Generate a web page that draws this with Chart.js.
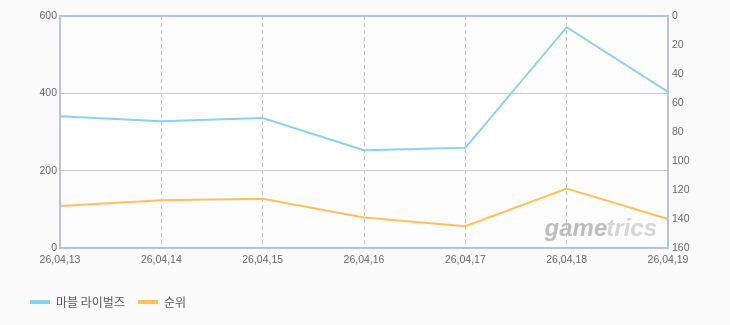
<!DOCTYPE html>
<html>
<head>
<meta charset="utf-8">
<script src="https://cdn.jsdelivr.net/npm/chart.js@4/dist/chart.umd.min.js"></script>
<style>
  html, body { margin: 0; padding: 0; background: #fbfbfb; }
  #wrap { width: 730px; height: 325px; }
</style>
</head>
<body>
<div id="wrap"><canvas id="chart" width="730" height="325"></canvas></div>
<script>
// dates and values
var labels = ['26,04,13', '26,04,14', '26,04,15', '26,04,16', '26,04,17', '26,04,18', '26,04,19'];
var gameValues = [341, 328, 336, 253, 259, 571, 404];
var rankValues = [131, 127, 126, 139, 145, 119, 140];
var leftTicks = [0, 200, 400, 600];
var rightTicks = [0, 20, 40, 60, 80, 100, 120, 140, 160];

var tickFont = { family: '"Liberation Sans", Arial, sans-serif', size: 10.5 };

// background bands, frame and watermark
var decor = {
  id: 'decor',
  beforeDraw: function (chart) {
    var c = chart.ctx, a = chart.chartArea, y = chart.scales.y;
    c.save();
    c.fillStyle = '#fbfbfb';
    c.fillRect(0, 0, chart.width, chart.height);
    for (var i = 0; i < leftTicks.length - 1; i++) {
      var top = y.getPixelForValue(leftTicks[i + 1]);
      var bot = y.getPixelForValue(leftTicks[i]);
      c.fillStyle = i % 2 === 1 ? '#ffffff' : '#fdfdfd';
      c.fillRect(a.left, top, a.right - a.left, bot - top);
    }
    c.restore();
  },
  beforeDatasetsDraw: function (chart) {
    var c = chart.ctx, a = chart.chartArea;
    c.save();
    c.font = 'italic bold 24px "Liberation Sans", Arial, sans-serif';
    c.textBaseline = 'alphabetic';
    var w1 = c.measureText('game').width;
    var w2 = c.measureText('trics').width;
    var x = a.right - 10 - w1 - w2;
    c.fillStyle = '#bdbdbd';
    c.fillText('game', x, a.bottom - 12);
    c.fillStyle = '#d6d6d6';
    c.fillText('trics', x + w1 - 1, a.bottom - 12);
    c.restore();
  },
  afterDatasetsDraw: function (chart) {
    var c = chart.ctx, a = chart.chartArea;
    c.save();
    c.strokeStyle = '#b5c4d6';
    c.lineWidth = 2;
    c.strokeRect(a.left, a.top, a.right - a.left, a.bottom - a.top);
    c.restore();
  }
};

var chart = new Chart(document.getElementById('chart').getContext('2d'), {
  type: 'line',
  data: {
    labels: labels,
    datasets: [{
      label: '마블 라이벌즈',
      data: gameValues,
      yAxisID: 'y',
      borderColor: 'rgb(142, 207, 240)',
      backgroundColor: 'rgb(142, 207, 240)',
      borderWidth: 2,
      pointRadius: 0,
      tension: 0,
      fill: false
    }, {
      label: '순위',
      data: rankValues,
      yAxisID: 'y1',
      borderColor: 'rgb(255, 192, 92)',
      backgroundColor: 'rgb(255, 192, 92)',
      borderWidth: 2,
      pointRadius: 0,
      tension: 0,
      fill: false
    }]
  },
  options: {
    responsive: false,
    animation: false,
    events: [],
    layout: { padding: { left: 17, right: 0, top: 16, bottom: 7 } },
    scales: {
      x: {
        offset: false,
        grid: {
          color: function (ctx) {
            return (ctx.index === 0 || ctx.index === labels.length - 1) ? 'rgba(0,0,0,0)' : '#c4c4c4';
          },
          lineWidth: 1,
          drawTicks: false
        },
        border: { display: false, dash: [4, 3] },
        ticks: { color: '#666', font: tickFont, padding: 6, maxRotation: 0, autoSkip: false },
        afterFit: function (s) { s.height = 35; }
      },
      y: {
        position: 'left',
        min: 0,
        max: 600,
        afterBuildTicks: function (s) { s.ticks = leftTicks.map(function (v) { return { value: v }; }); },
        grid: {
          color: function (ctx) {
            return (ctx.tick.value === 0 || ctx.tick.value === 600) ? 'rgba(0,0,0,0)' : '#cccccc';
          },
          drawTicks: false
        },
        border: { display: false },
        ticks: { color: '#666', font: tickFont, padding: 3 },
        afterFit: function (s) { s.width = 43; }
      },
      y1: {
        position: 'right',
        min: 0,
        max: 160,
        reverse: true,
        afterBuildTicks: function (s) { s.ticks = rightTicks.map(function (v) { return { value: v }; }); },
        grid: { display: false, drawTicks: false },
        border: { display: false },
        ticks: { color: '#666', font: tickFont, padding: 4 },
        afterFit: function (s) { s.width = 62; }
      }
    },
    plugins: {
      tooltip: { enabled: false },
      legend: {
        position: 'bottom',
        align: 'start',
        labels: {
          boxWidth: 20,
          boxHeight: 4,
          padding: 13,
          color: '#555',
          font: { family: '"Noto Sans CJK KR", sans-serif', size: 12 },
          generateLabels: function (ch) {
            var items = Chart.defaults.plugins.legend.labels.generateLabels(ch);
            items.forEach(function (it) { it.lineWidth = 0; });
            return items;
          }
        }
      }
    }
  },
  plugins: [decor]
});
</script>
</body>
</html>
